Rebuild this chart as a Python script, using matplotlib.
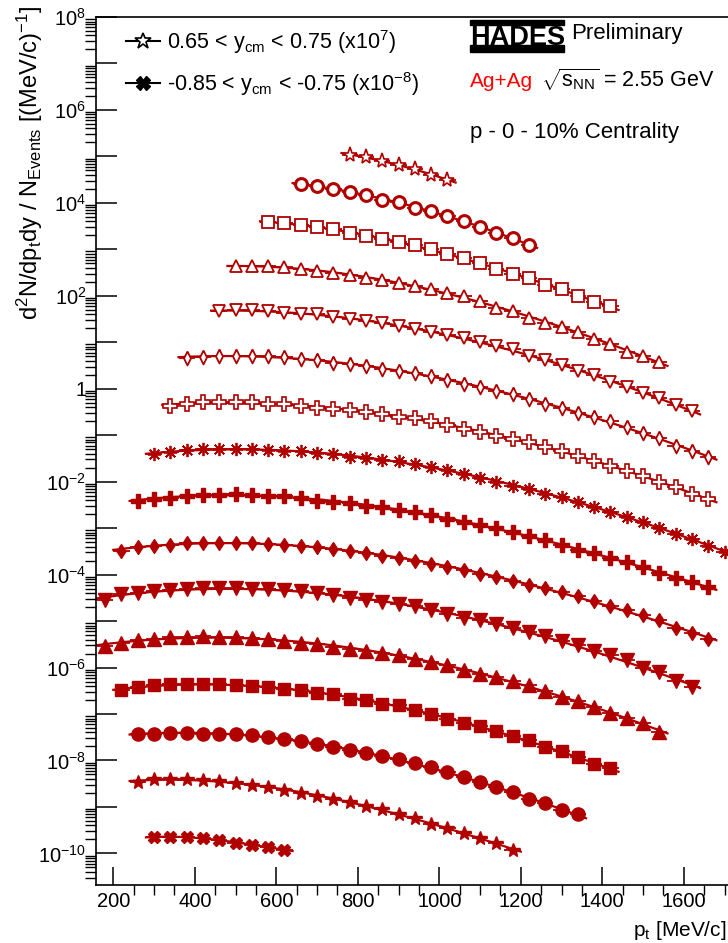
import numpy as np
import matplotlib.pyplot as plt
from matplotlib.lines import Line2D
from matplotlib.patches import Rectangle
from matplotlib.ticker import (FixedLocator, LogLocator, MultipleLocator, FuncFormatter,
                               NullFormatter)

plt.rcParams['font.family'] = ['Liberation Sans', 'DejaVu Sans']
plt.rcParams['mathtext.fontset'] = 'custom'
plt.rcParams['mathtext.rm'] = 'Liberation Sans'
plt.rcParams['mathtext.it'] = 'Liberation Sans:italic'
plt.rcParams['mathtext.bf'] = 'Liberation Sans:bold'

red = '#b00000'
bin_width = 40  # MeV/c

# first / last pt bin centre of each rapidity slice (top to bottom)
pt_first = [780, 660, 580, 500, 460, 380, 340, 300, 260, 220, 180, 180, 220, 260, 260, 300]
pt_last = [1020, 1220, 1420, 1540, 1620, 1660, 1660, 1700, 1660, 1660, 1620, 1540, 1420, 1340, 1180, 620]

# log10 of the (scaled) yields
log_y01 = [5.04, 4.98, 4.90, 4.81, 4.72, 4.61, 4.50]
log_y02 = [4.40, 4.36, 4.30, 4.24, 4.18, 4.07, 4.02, 3.89, 3.82, 3.71, 3.61, 3.48, 3.36, 3.25, 3.09]
log_y03 = [3.585, 3.564, 3.532, 3.489, 3.429, 3.356, 3.285, 3.214, 3.156, 3.092, 3.00,
           2.904, 2.806, 2.711, 2.582, 2.475, 2.389, 2.232, 2.14, 1.996, 1.873, 1.781]
log_y04 = [2.640, 2.640, 2.640, 2.625, 2.568, 2.533, 2.496, 2.447, 2.376, 2.333, 2.281,
           2.211, 2.140, 2.067, 1.996, 1.888, 1.744, 1.67, 1.53, 1.422, 1.33, 1.222,
           1.078, 0.958, 0.80, 0.707, 0.578]
log_y05 = [1.673, 1.688, 1.688, 1.673, 1.637, 1.616, 1.603, 1.551, 1.508, 1.459, 1.422,
           1.352, 1.281, 1.229, 1.158, 1.087, 1.014, 0.922, 0.851, 0.707, 0.614, 0.513,
           0.384, 0.298, 0.155, 0.041, -0.095, -0.189, -0.346, -0.475]
log_y06 = [0.670, 0.692, 0.707, 0.707, 0.707, 0.700, 0.685, 0.636, 0.614, 0.563, 0.528,
           0.492, 0.434, 0.385, 0.335, 0.277, 0.185, 0.105, 0.03, -0.045, -0.116, -0.223,
           -0.318, -0.404, -0.524, -0.619, -0.705, -0.834, -0.954, -1.061, -1.227, -1.334, -1.463]
log_y07 = [-0.367, -0.318, -0.296, -0.296, -0.296, -0.296, -0.318, -0.331, -0.367, -0.404,
           -0.438, -0.460, -0.511, -0.546, -0.604, -0.632, -0.690, -0.782, -0.861, -0.937,
           -1.012, -1.083, -1.156, -1.248, -1.334, -1.441, -1.549, -1.656, -1.764, -1.871,
           -2.015, -2.122, -2.264, -2.371]
log_y08 = [-1.405, -1.371, -1.313, -1.298, -1.298, -1.298, -1.298, -1.313, -1.334, -1.349,
           -1.383, -1.405, -1.463, -1.491, -1.527, -1.564, -1.62, -1.678, -1.749, -1.828,
           -1.914, -2.0, -2.086, -2.157, -2.264, -2.337, -2.445, -2.537, -2.66, -2.752,
           -2.859, -2.988, -3.123, -3.231, -3.375, -3.519]
log_y09 = [-2.408, -2.372, -2.350, -2.316, -2.279, -2.279, -2.264, -2.279, -2.301, -2.316,
           -2.350, -2.408, -2.445, -2.466, -2.516, -2.552, -2.608, -2.659, -2.709, -2.801,
           -2.874, -2.924, -2.995, -3.089, -3.160, -3.252, -3.353, -3.467, -3.532, -3.639,
           -3.734, -3.841, -3.961, -4.069, -4.163, -4.271]
log_y10 = [-3.482, -3.411, -3.375, -3.353, -3.325, -3.311, -3.311, -3.311, -3.325, -3.338,
           -3.353, -3.39, -3.411, -3.446, -3.482, -3.532, -3.59, -3.639, -3.712, -3.768,
           -3.826, -3.897, -3.983, -4.056, -4.142, -4.219, -4.292, -4.378, -4.470, -4.578,
           -4.679, -4.771, -4.879, -4.986, -5.143, -5.259, -5.379]
log_y11 = [-4.556, -4.427, -4.399, -4.356, -4.326, -4.305, -4.292, -4.283, -4.292, -4.305,
           -4.320, -4.342, -4.363, -4.399, -4.449, -4.498, -4.541, -4.593, -4.627, -4.685,
           -4.771, -4.857, -4.928, -4.986, -5.072, -5.143, -5.237, -5.330, -5.431, -5.523,
           -5.646, -5.738, -5.845, -6.002, -6.097, -6.290, -6.419]
log_y12 = [-5.545, -5.474, -5.416, -5.379, -5.345, -5.345, -5.323, -5.345, -5.345, -5.366,
           -5.394, -5.431, -5.474, -5.502, -5.560, -5.594, -5.646, -5.689, -5.738, -5.809,
           -5.882, -5.953, -6.045, -6.131, -6.204, -6.290, -6.382, -6.505, -6.640, -6.726,
           -6.855, -6.984, -7.091, -7.199, -7.385]
log_y13 = [-6.490, -6.419, -6.382, -6.361, -6.361, -6.361, -6.361, -6.382, -6.398, -6.419,
           -6.468, -6.490, -6.539, -6.576, -6.668, -6.705, -6.776, -6.812, -6.919, -7.005,
           -7.098, -7.192, -7.263, -7.371, -7.478, -7.564, -7.708, -7.794, -7.936, -8.086, -8.172]
log_y14 = [-7.420, -7.420, -7.407, -7.407, -7.420, -7.420, -7.435, -7.457, -7.493, -7.543,
           -7.586, -7.635, -7.708, -7.779, -7.837, -7.908, -7.979, -8.064, -8.137, -8.258,
           -8.365, -8.472, -8.580, -8.675, -8.831, -8.911, -9.068, -9.160]
log_y15 = [-8.460, -8.408, -8.408, -8.408, -8.423, -8.445, -8.481, -8.531, -8.580, -8.638,
           -8.696, -8.767, -8.831, -8.889, -8.982, -9.053, -9.160, -9.246, -9.368, -9.461,
           -9.568, -9.675, -9.770, -9.927]
log_y16 = [-9.641, -9.654, -9.641, -9.676, -9.712, -9.770, -9.819, -9.856, -9.927]

log_yields = [log_y01, log_y02, log_y03, log_y04, log_y05, log_y06, log_y07, log_y08,
              log_y09, log_y10, log_y11, log_y12, log_y13, log_y14, log_y15, log_y16]

# narrow diamonds like the ROOT ones
thin_diamond = [(0, 1), (0.5, 0), (0, -1), (-0.5, 0), (0, 1)]
fat_diamond = [(0, 1), (0.65, 0), (0, -1), (-0.65, 0), (0, 1)]

# marker, filled?, size, edge width
markers = [('*', False, 11, 1.2), ('o', False, 8.5, 2.2), ('s', False, 8.5, 1.3),
           ('^', False, 9, 1.3), ('v', False, 9, 1.3), (thin_diamond, False, 10, 1.3),
           ('P', False, 9.5, 1.2), ((8, 2, 0), False, 9.5, 1.3), ('P', True, 9.5, 1),
           (fat_diamond, True, 10, 1), ('v', True, 9.5, 1), ('^', True, 9.5, 1),
           ('s', True, 8.5, 1), ('o', True, 9.5, 1), ('*', True, 10, 1), ('X', True, 8, 1)]

fig = plt.figure(figsize=(7.28, 9.43), dpi=100)
W, H = 728.0, 943.0
ax = fig.add_axes([96 / W, 58 / H, 632 / W, 868 / H])

for lo, hi, logy, (mk, filled, ms, mew) in zip(pt_first, pt_last, log_yields, markers):
    pt = np.arange(lo, hi + 1, bin_width)
    logy = np.array(logy)
    y = 10 ** logy
    # fit curve through the points (in log space)
    deg = 3 if len(pt) > 8 else 2
    coef = np.polyfit(pt, logy, deg)
    xs = np.linspace(pt[0] - bin_width / 2, pt[-1] + bin_width / 2, 200)
    ax.plot(xs, 10 ** np.polyval(coef, xs), color=red, lw=1.6, zorder=2)
    ax.errorbar(pt, y, xerr=bin_width / 2, fmt='none', ecolor=red, elinewidth=1.3, zorder=3)
    ax.plot(pt, y, ls='none', marker=mk, ms=ms, mew=mew, mec=red,
            mfc=red if filled else 'white', zorder=4)

ax.set_yscale('log')
ax.set_xlim(157.5, 1708.5)
ax.set_ylim(10 ** -10.68, 1e8)

ax.xaxis.set_major_locator(MultipleLocator(200))
ax.xaxis.set_minor_locator(MultipleLocator(50))
ax.yaxis.set_major_locator(FixedLocator(10.0 ** np.arange(-10, 9)))
ax.yaxis.set_minor_locator(LogLocator(base=10, subs=np.arange(2, 10), numticks=200))
ax.yaxis.set_minor_formatter(NullFormatter())


def ylab(v, pos):
    e = int(round(np.log10(v)))
    if e % 2:
        return ''
    if e == 0:
        return '1'
    return r'$10^{%d}$' % e


ax.yaxis.set_major_formatter(FuncFormatter(ylab))
ax.tick_params(direction='in', labelsize=14.5, width=1.1)
ax.tick_params(axis='y', which='major', length=15, pad=7)
ax.tick_params(axis='y', which='minor', length=8, width=1)
ax.tick_params(axis='x', which='major', length=13, pad=5)
ax.tick_params(axis='x', which='minor', length=7, width=1)
ax.spines['right'].set_visible(False)
for s in ['left', 'bottom', 'top']:
    ax.spines[s].set_linewidth(1.2)

fig.text(0.998, 1 - 936 / H, r'p$_{\rm t}$ [MeV/c]', ha='right', va='baseline', fontsize=15)
fig.text(30 / W, 1 - 6 / H, r'd$^{2}$N/dp$_{\rm t}$dy / N$_{\rm Events}$ [(MeV/c)$^{-1}$]',
         rotation=90, ha='center', va='top', fontsize=17)

# legend
handles = [Line2D([], [], color='k', lw=1.5, marker='*', ms=12, mfc='white', mew=1.2),
           Line2D([], [], color='k', lw=1.5, marker='X', ms=10)]
labels = [r'0.65 < y$_{\rm cm}$ < 0.75 (x10$^{7}$)', r'-0.85 < y$_{\rm cm}$ < -0.75 (x10$^{-8}$)']
ax.legend(handles, labels, loc='upper left', bbox_to_anchor=(126 / W, 1 - 28 / H),
          bbox_transform=fig.transFigure, frameon=False, fontsize=15.5,
          handlelength=1.6, handletextpad=0.3, labelspacing=0.65,
          borderpad=0, borderaxespad=0)

# HADES label
fig.patches.append(Rectangle((470 / W, 1 - 25 / H), 94 / W, 4.5 / H, color='k',
                             transform=fig.transFigure, figure=fig))
fig.patches.append(Rectangle((470 / W, 1 - 51.5 / H), 94 / W, 6 / H, color='k',
                             transform=fig.transFigure, figure=fig))
fig.text(470 / W, 1 - 45 / H, 'HADES', fontsize=19.5, fontweight='bold', va='baseline')
fig.text(571 / W, 1 - 39 / H, 'Preliminary', fontsize=16, va='baseline')
fig.text(470 / W, 1 - 87 / H, 'Ag+Ag', fontsize=15, va='baseline', color='#ff0000')
fig.text(541 / W, 1 - 87 / H, r'$\sqrt{\rm s_{NN}}$ = 2.55 GeV', fontsize=15.5, va='baseline')
fig.text(470 / W, 1 - 138 / H, 'p - 0 - 10% Centrality', fontsize=16, va='baseline')

fig.savefig('out.png', dpi=100)
